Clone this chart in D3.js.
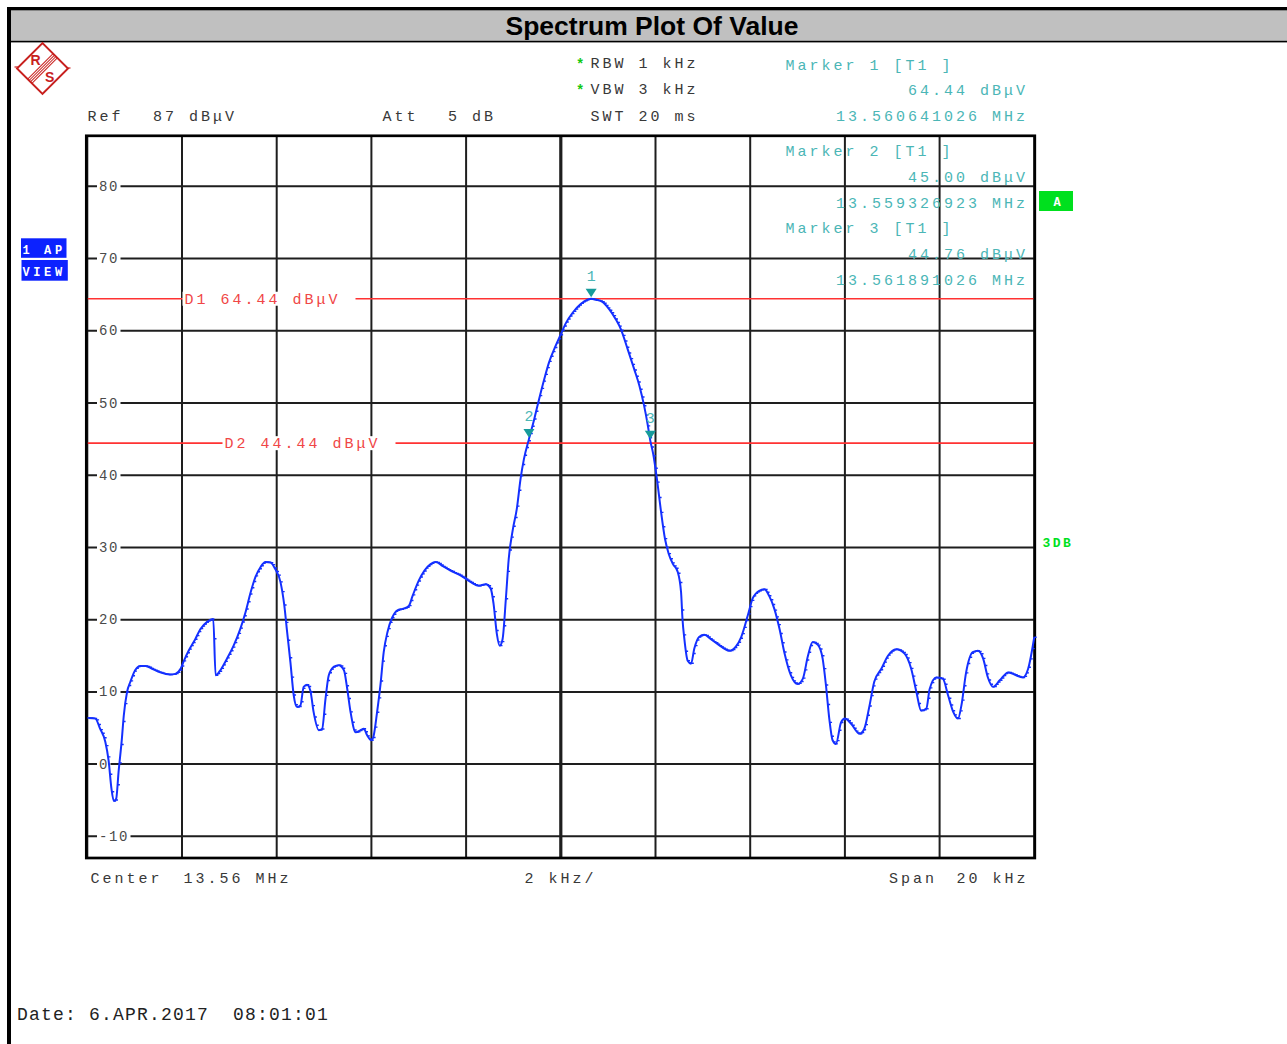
<!DOCTYPE html>
<html><head><meta charset="utf-8">
<script src="https://cdn.jsdelivr.net/npm/d3@7"></script>
<style>
body{margin:0;background:#fff;}
svg text{font-family:"Liberation Mono","DejaVu Sans Mono",monospace;white-space:pre;}
</style>
</head><body>
<svg id="c" width="1287" height="1044"></svg>
<script>
// ---------------- DATA ----------------
const traceFreqKHz = [
-9.98,-9.83,-9.73,-9.62,-9.55,-9.49,-9.44,-9.39,-9.34,-9.27,-9.23,-9.16,-9.09,-8.99,-8.88,-8.77,-8.63,-8.46,-8.25,-8.14,
-8.03,-7.96,-7.86,-7.72,-7.61,-7.47,-7.34,-7.29,-7.19,-7.05,-6.91,-6.77,-6.66,-6.55,-6.45,-6.34,-6.24,-6.13,-6.03,-5.92,
-5.84,-5.78,-5.71,-5.64,-5.57,-5.50,-5.43,-5.36,-5.29,-5.22,-5.11,-5.04,-4.97,-4.90,-4.79,-4.69,-4.58,-4.51,-4.44,-4.33,
-4.23,-4.16,-4.09,-4.00,-3.95,-3.88,-3.81,-3.74,-3.66,-3.56,-3.45,-3.34,-3.21,-3.13,-3.00,-2.88,-2.75,-2.64,-2.49,-2.33,
-2.11,-1.90,-1.73,-1.59,-1.48,-1.42,-1.35,-1.29,-1.23,-1.16,-1.10,-1.01,-0.93,-0.85,-0.78,-0.673,-0.56,-0.46,-0.35,-0.25,
-0.11,0.00,0.11,0.25,0.42,0.56,0.641,0.74,0.88,1.02,1.16,1.27,1.41,1.55,1.66,1.76,1.83,1.891,1.95,2.03,
2.11,2.20,2.28,2.37,2.47,2.54,2.57,2.61,2.68,2.75,2.82,2.92,3.03,3.17,3.38,3.56,3.70,3.81,3.95,4.05,
4.19,4.30,4.40,4.51,4.62,4.72,4.86,5.00,5.11,5.22,5.32,5.43,5.53,5.60,5.67,5.74,5.81,5.92,6.00,6.13,
6.31,6.41,6.52,6.62,6.77,6.91,7.08,7.26,7.40,7.51,7.61,7.72,7.79,7.93,8.07,8.18,8.29,8.39,8.46,8.56,
8.70,8.81,8.92,9.02,9.13,9.27,9.45,9.58,9.76,9.87,10.00];
const traceLevelDBuV = [
6.4,6.3,4.9,3.1,0.5,-3.4,-5.1,-4.8,-1.1,3.5,6.7,10.0,11.4,13.0,13.6,13.6,13.2,12.7,12.4,12.5,
13.2,14.3,15.7,17.3,18.7,19.7,20.1,12.3,13.0,14.6,16.4,18.7,21.0,23.8,25.9,27.3,28.0,27.9,27.0,25.2,
22.0,18.3,14.1,9.5,7.9,8.1,10.7,11.0,10.2,7.2,4.7,4.9,9.0,12.3,13.5,13.7,13.0,10.4,7.2,4.4,
4.7,4.9,4.0,3.3,4.0,7.2,10.9,15.5,18.3,20.3,21.3,21.5,21.9,23.3,25.4,26.8,27.7,28.0,27.4,26.8,
26.1,25.2,24.7,24.9,24.3,22.2,18.0,16.4,17.3,22.9,28.4,32.6,35.3,39.5,42.2,45.0,47.8,50.5,53.3,55.6,
57.9,59.5,61.1,62.5,63.7,64.3,64.44,64.3,64.0,63.0,61.6,60.2,57.5,54.7,52.4,49.6,47.2,44.76,43.0,39.5,
35.3,31.2,29.1,27.7,26.6,23.8,20.1,17.3,14.3,13.9,16.0,17.6,17.9,17.3,16.3,15.7,16.3,17.6,20.6,22.9,
24.0,24.2,23.3,21.5,18.7,15.5,12.3,11.1,11.8,15.0,16.9,16.5,14.6,10.9,6.3,3.3,2.8,5.8,6.3,5.6,
4.2,4.9,8.1,11.4,13.2,15.0,15.9,15.3,13.2,10.0,7.4,7.7,10.4,12.0,11.8,9.5,7.2,6.3,8.1,12.7,
15.5,15.7,14.6,12.0,10.7,11.6,12.7,12.4,12.0,13.2,17.6];

const yTickValues = [80,70,60,50,40,30,20,10,0,-10];
const yTickLabels = ["80","70","60","50","40","30","20","10","0","-10"];

const displayLineNames = ["D1","D2"];
const displayLineLevels = [64.44,44.44];

const markerNames = ["1","2","3"];
const markerFreqKHz = [0.641026,-0.673077,1.891026];
const markerLevels = [64.44,45.00,44.76];
const markerFreqMHz = ["13.560641026","13.559326923","13.561891026"];

const refLevel = 87, spanKHz = 20, centerMHz = "13.56";
const headerRef = ["Ref","87 dBμV"];
const headerAtt = ["Att","5 dB"];
const headerBW = ["RBW 1 kHz","VBW 3 kHz","SWT 20 ms"];
const footerLabels = ["Center","13.56 MHz","2 kHz/","Span","20 kHz"];
const dateLabel = "Date: 6.APR.2017  08:01:01";
const titleText = "Spectrum Plot Of Value";

// ---------------- DRAW ----------------
const svg = d3.select("#c");
svg.append("rect").attr("width",1287).attr("height",1044).attr("fill","#fff");

// title bar and outer frame
svg.append("rect").attr("x",11).attr("y",10).attr("width",1276).attr("height",31).attr("fill","#c0c0c0");
svg.append("rect").attr("x",7).attr("y",7).attr("width",1280).attr("height",3.3).attr("fill","#000");
svg.append("rect").attr("x",7).attr("y",7).attr("width",4).attr("height",1037).attr("fill","#000");
svg.append("rect").attr("x",11).attr("y",40.8).attr("width",1276).attr("height",1.6).attr("fill","#000");
svg.append("text").attr("x",652).attr("y",35).attr("text-anchor","middle")
  .style("font-family","'Liberation Sans',Arial,sans-serif").style("font-weight","bold").style("font-size","26.5px")
  .attr("fill","#000").text(titleText);

// scales
const x = d3.scaleLinear().domain([-spanKHz/2, spanKHz/2]).range([87.3,1034.3]);
const y = d3.scaleLinear().domain([refLevel-100, refLevel]).range([858,135.8]);

const plot = svg.append("g");
// grid
const gridColor = "#1e1e1e";
x.ticks(10).forEach(t => {
  plot.append("line").attr("x1",x(t)).attr("x2",x(t)).attr("y1",y(refLevel)).attr("y2",y(refLevel-100))
    .attr("stroke",gridColor).attr("stroke-width", t===0 ? 3.2 : 2);
});
yTickValues.forEach(v => {
  plot.append("line").attr("x1",x.range()[0]).attr("x2",x.range()[1]).attr("y1",y(v)).attr("y2",y(v))
    .attr("stroke",gridColor).attr("stroke-width",2);
});
// y labels with white background
const labPitch = 10;
yTickValues.forEach((v,i) => {
  const s = yTickLabels[i];
  plot.append("rect").attr("x",97).attr("y",y(v)-6).attr("width",2+s.length*labPitch+1.5).attr("height",12).attr("fill","#fff");
  plot.append("text").attr("x",99).attr("y",y(v)+4.6).attr("fill","#4a4a4a")
    .style("font-size","14px").style("letter-spacing",(labPitch-8.4)+"px").text(s);
});

// display lines
const red = "#ff3232";
const dLabelX = [184.5,224.5];
displayLineLevels.forEach((lv,i) => {
  const yy = y(lv);
  plot.append("line").attr("x1",x.range()[0]).attr("x2",x.range()[1]).attr("y1",yy).attr("y2",yy)
    .attr("stroke",red).attr("stroke-width",1.6);
  const txt = `${displayLineNames[i]} ${lv.toFixed(2)} dBμV`;
  plot.append("rect").attr("x",dLabelX[i]-2).attr("y",yy-7).attr("width",173).attr("height",14).attr("fill","#fff");
  plot.append("text").attr("x",dLabelX[i]).attr("y",yy+4.8).attr("fill","#f04646")
    .style("font-size","15px").style("letter-spacing","3px").text(txt);
});

// frame
plot.append("rect").attr("x",x.range()[0]-1).attr("y",y(refLevel)).attr("width",x.range()[1]-x.range()[0]+1.5)
  .attr("height",y(refLevel-100)-y(refLevel)).attr("fill","none").attr("stroke","#000").attr("stroke-width",2.7);

// trace
const blue = "#1430ff";
const traceData = traceFreqKHz.map((f,i) => [f, traceLevelDBuV[i]]);
const line = d3.line().x(d => x(d[0])).y(d => y(d[1])).curve(d3.curveMonotoneX);
const tracePath = plot.append("path").attr("d",line(traceData)).attr("fill","none")
  .attr("stroke",blue).attr("stroke-width",2).attr("stroke-linejoin","round");

// sweep-point ticks (display style of the analyzer trace)
{
  const node = tracePath.node();
  const total = node.getTotalLength();
  const samples = [];
  for (let s = 0; s <= total; s += 0.5) samples.push(node.getPointAtLength(s));
  const sweepCount = 501;
  const x0 = x.range()[0], x1 = x.range()[1];
  let d = "", j = 0;
  for (let k = 0; k < sweepCount; k++) {
    const px = x0 + k*(x1-x0)/(sweepCount-1);
    while (j < samples.length-1 && samples[j+1].x <= px) j++;
    d += `M${px.toFixed(2)},${samples[j].y.toFixed(2)}h2.3`;
  }
  plot.append("path").attr("d",d).attr("stroke",blue).attr("stroke-width",1.4).attr("fill","none");
}

// markers
const teal = "#4bb6b6", tealDark = "#179b9b";
markerFreqKHz.forEach((f,i) => {
  const cx = x(f), tip = y(markerLevels[i]) - 1.5, top = tip - 8.5;
  plot.append("path").attr("d",`M${cx-5.5},${top}L${cx+5.5},${top}L${cx},${tip}Z`).attr("fill",tealDark);
  plot.append("text").attr("x",cx).attr("y",top-8).attr("text-anchor","middle").attr("fill",teal)
    .style("font-size","15px").text(markerNames[i]);
});

// marker readout panel
const pitch = 12, fs = 15, ls = pitch - 9;
function tline(str, xx, yy, fill) {
  return svg.append("text").attr("x",xx).attr("y",yy).attr("fill",fill)
    .style("font-size",fs+"px").style("letter-spacing",ls+"px").text(str);
}
const rightEdge = 1028;
const markerRowY = [[69.5,94.5,121],[155.7,181.7,207.7],[233.3,258.8,284.5]];
markerNames.forEach((m,i) => {
  tline(`Marker ${m} [T1 ]`, 785.5, markerRowY[i][0], teal);
  const lv = `${markerLevels[i].toFixed(2)} dBμV`;
  tline(lv, rightEdge - lv.length*pitch, markerRowY[i][1], teal);
  const fr = `${markerFreqMHz[i]} MHz`;
  tline(fr, rightEdge - fr.length*pitch, markerRowY[i][2], teal);
});

// header
const hdr = "#383838";
tline(headerRef[0], 87.5, 120.5, hdr);
tline(headerRef[1], 153, 120.5, hdr);
tline(headerAtt[0], 382.5, 120.5, hdr);
tline(headerAtt[1], 448, 120.5, hdr);
[68,94,120.5].forEach((yy,i) => tline(headerBW[i], 590.5, yy, hdr));
[68,94].forEach(yy => svg.append("text").attr("x",576).attr("y",yy+1).attr("fill","#12c812")
  .style("font-size","14px").style("font-weight","bold").text("*"));

// footer
tline(footerLabels[0], 90.5, 883, hdr);
tline(footerLabels[1], 183.5, 883, hdr);
tline(footerLabels[2], 524.5, 883, hdr);
tline(footerLabels[3], 889, 883, hdr);
tline(footerLabels[4], 956.5, 883, hdr);

// date
svg.append("text").attr("x",17).attr("y",1019.5).attr("fill","#222")
  .style("font-size","18px").style("letter-spacing","1.2px").text(dateLabel);

// left status boxes
const bl = "#0c22ff";
svg.append("rect").attr("x",21).attr("y",238.3).attr("width",45.5).attr("height",19.5).attr("fill",bl);
svg.append("rect").attr("x",21.5).attr("y",260).attr("width",46.3).attr("height",20.7).attr("fill",bl);
svg.append("text").attr("x",22.5).attr("y",254).attr("fill","#fff").style("font-size","12px")
  .style("font-weight","bold").style("letter-spacing","3.6px").text("1 AP");
svg.append("text").attr("x",22.5).attr("y",276).attr("fill","#fff").style("font-size","12px")
  .style("font-weight","bold").style("letter-spacing","3.6px").text("VIEW");

// right status
const gr = "#00e01e";
svg.append("rect").attr("x",1039).attr("y",191).attr("width",34).attr("height",20).attr("fill",gr);
svg.append("text").attr("x",1057).attr("y",206).attr("text-anchor","middle").attr("fill","#fff")
  .style("font-size","12px").style("font-weight","bold").text("A");
svg.append("text").attr("x",1042.5).attr("y",547).attr("fill",gr).style("font-size","13px")
  .style("font-weight","bold").style("letter-spacing","2.5px").text("3DB");

// logo
const lr = "#c8201e";
const logo = svg.append("g").attr("transform","translate(42.5,68.5) rotate(45)");
logo.append("rect").attr("x",-18).attr("y",-18).attr("width",36).attr("height",36)
  .attr("fill","#fff").attr("stroke",lr).attr("stroke-width",2);
[-3,-1,1,3].forEach(s => logo.append("line").attr("x1",s).attr("x2",s).attr("y1",-18).attr("y2",18)
  .attr("stroke",lr).attr("stroke-width",1));
svg.append("text").attr("x",30.5).attr("y",65).attr("fill",lr).style("font-family","'Liberation Sans',Arial,sans-serif")
  .style("font-size","14px").style("font-weight","bold").text("R");
svg.append("text").attr("x",45).attr("y",82).attr("fill",lr).style("font-family","'Liberation Sans',Arial,sans-serif")
  .style("font-size","14px").style("font-weight","bold").text("S");
svg.append("line").attr("x1",14.5).attr("x2",18).attr("y1",67).attr("y2",67).attr("stroke",lr).attr("stroke-width",1.2);
svg.append("line").attr("x1",67).attr("x2",70.5).attr("y1",68).attr("y2",68).attr("stroke",lr).attr("stroke-width",1.2);
</script>
</body></html>
